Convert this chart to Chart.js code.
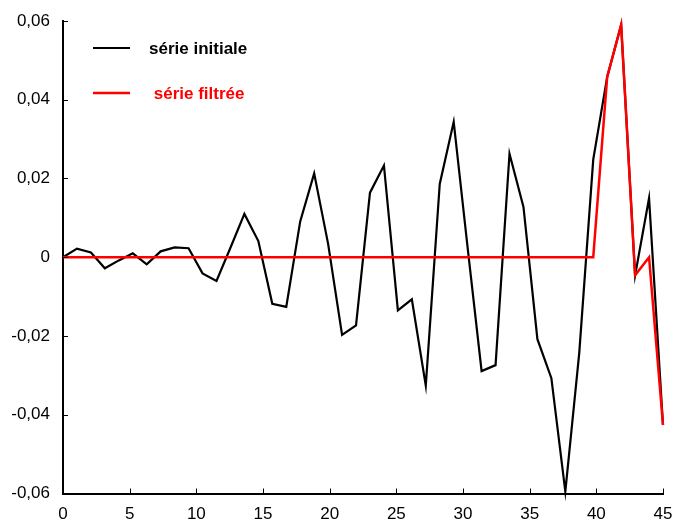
<!DOCTYPE html>
<html>
<head>
<meta charset="utf-8">
<script src="https://cdn.jsdelivr.net/npm/chart.js@4/dist/chart.umd.min.js"></script>
<style>
  body { margin: 0; background: #fff; }
  canvas { display: block; }
</style>
</head>
<body>
<canvas id="chart" width="675" height="519"></canvas>
<script>
// periodes (une valeur par pas de temps)
var periodes = ["1","2","3","4","5","6","7","8","9","10","11","12","13","14","15","16","17","18","19","20","21","22",
  "23","24","25","26","27","28","29","30","31","32","33","34","35","36","37","38","39","40","41","42","43","44"];

var serieInitiale = [0, 0.0022, 0.0012, -0.0028, -0.0008, 0.001, -0.0018, 0.0015, 0.0025, 0.0023, -0.0041, -0.006,
  0.0024, 0.011, 0.0041, -0.0118, -0.0126, 0.0091, 0.0213, 0.0034, -0.0197, -0.0173, 0.0164, 0.0233,
  -0.0135, -0.0107, -0.0326, 0.0186, 0.0344, 0.0024, -0.0289, -0.0274, 0.0263, 0.0128, -0.0208, -0.0307,
  -0.0595, -0.0242, 0.0248, 0.0458, 0.059, -0.0046, 0.015, -0.0426];

var serieFiltree = [0, 0, 0, 0, 0, 0, 0, 0, 0, 0, 0, 0,
  0, 0, 0, 0, 0, 0, 0, 0, 0, 0, 0, 0,
  0, 0, 0, 0, 0, 0, 0, 0, 0, 0, 0, 0,
  0, 0, 0, 0.0458, 0.059, -0.0046, 0, -0.0426];

// graduations de l'axe horizontal
var xMin = 0;
var xMax = 45;
var xPas = 5;

var police = "'Liberation Sans', Arial, sans-serif";

function formatFr(v) {
  if (Math.abs(v) < 1e-9) return "0";
  return v.toFixed(2).replace(".", ",");
}

// petites graduations tournees vers l'interieur
const graduationsPlugin = {
  id: 'graduations',
  afterDraw: (chart) => {
    const ctx = chart.ctx;
    const xs = chart.scales.xTicks;
    const ys = chart.scales.y;
    const area = chart.chartArea;
    ctx.save();
    ctx.strokeStyle = '#000';
    ctx.lineWidth = 1;
    ctx.beginPath();
    xs.ticks.forEach((t, i) => {
      if (i === 0) return;
      const px = Math.round(xs.getPixelForTick(i)) + 0.5;
      ctx.moveTo(px, area.bottom);
      ctx.lineTo(px, area.bottom - 5);
    });
    ys.ticks.forEach((t, i) => {
      const py = Math.round(ys.getPixelForTick(i)) + 0.5;
      ctx.moveTo(area.left, py);
      ctx.lineTo(area.left + 5, py);
    });
    ctx.stroke();
    ctx.restore();
  }
};

// legende dessinee dans la zone du graphique
const legendePlugin = {
  id: 'legende',
  afterDraw: (chart) => {
    const ctx = chart.ctx;
    const items = [
      { ds: chart.data.datasets[0], y: 48, tx: 149 },
      { ds: chart.data.datasets[1], y: 93, tx: 149 }
    ];
    ctx.save();
    ctx.font = 'bold 17px ' + police;
    ctx.textBaseline = 'middle';
    items.forEach((it) => {
      ctx.strokeStyle = it.ds.borderColor;
      ctx.lineWidth = it.ds.borderWidth;
      ctx.beginPath();
      ctx.moveTo(93, it.y);
      ctx.lineTo(130, it.y);
      ctx.stroke();
      ctx.fillStyle = it.ds.borderColor;
      ctx.fillText(it.ds.label, it.tx, it.y + 1);
    });
    ctx.restore();
  }
};

new Chart(document.getElementById("chart"), {
  type: "line",
  data: {
    labels: periodes,
    datasets: [
      {
        label: "série initiale",
        data: serieInitiale,
        borderColor: "#000000",
        borderWidth: 2.2,
        pointRadius: 0,
        tension: 0,
        fill: false,
        order: 1
      },
      {
        label: " série filtrée",
        data: serieFiltree,
        borderColor: "#ff0000",
        borderWidth: 2.5,
        pointRadius: 0,
        tension: 0,
        fill: false,
        order: 0
      }
    ]
  },
  options: {
    responsive: false,
    animation: false,
    devicePixelRatio: 1,
    clip: false,
    layout: { padding: { top: 21, right: 12, left: 0, bottom: 0 } },
    plugins: {
      legend: { display: false },
      tooltip: { enabled: false }
    },
    scales: {
      x: {
        type: "category",
        display: false,
        offset: false
      },
      xTicks: {
        type: "linear",
        position: "bottom",
        min: xMin,
        max: xMax,
        grid: { display: false, drawTicks: false },
        border: { display: true, color: "#000", width: 2 },
        ticks: {
          stepSize: xPas,
          color: "#000",
          padding: 11,
          maxRotation: 0,
          font: { family: police, size: 17 }
        },
        afterFit: (scale) => {
          scale.height = 25.5;
          scale.paddingLeft = 0;
          scale.paddingRight = 0;
        }
      },
      y: {
        min: -0.06,
        max: 0.06,
        grid: { display: false, drawTicks: false },
        border: { display: true, color: "#000", width: 2 },
        ticks: {
          stepSize: 0.02,
          color: "#000",
          padding: 13,
          font: { family: police, size: 17 },
          callback: (v) => formatFr(v)
        },
        afterFit: (scale) => {
          scale.width = 63;
          scale.paddingTop = 0;
          scale.paddingBottom = 0;
        }
      }
    }
  },
  plugins: [graduationsPlugin, legendePlugin]
});
</script>
</body>
</html>
